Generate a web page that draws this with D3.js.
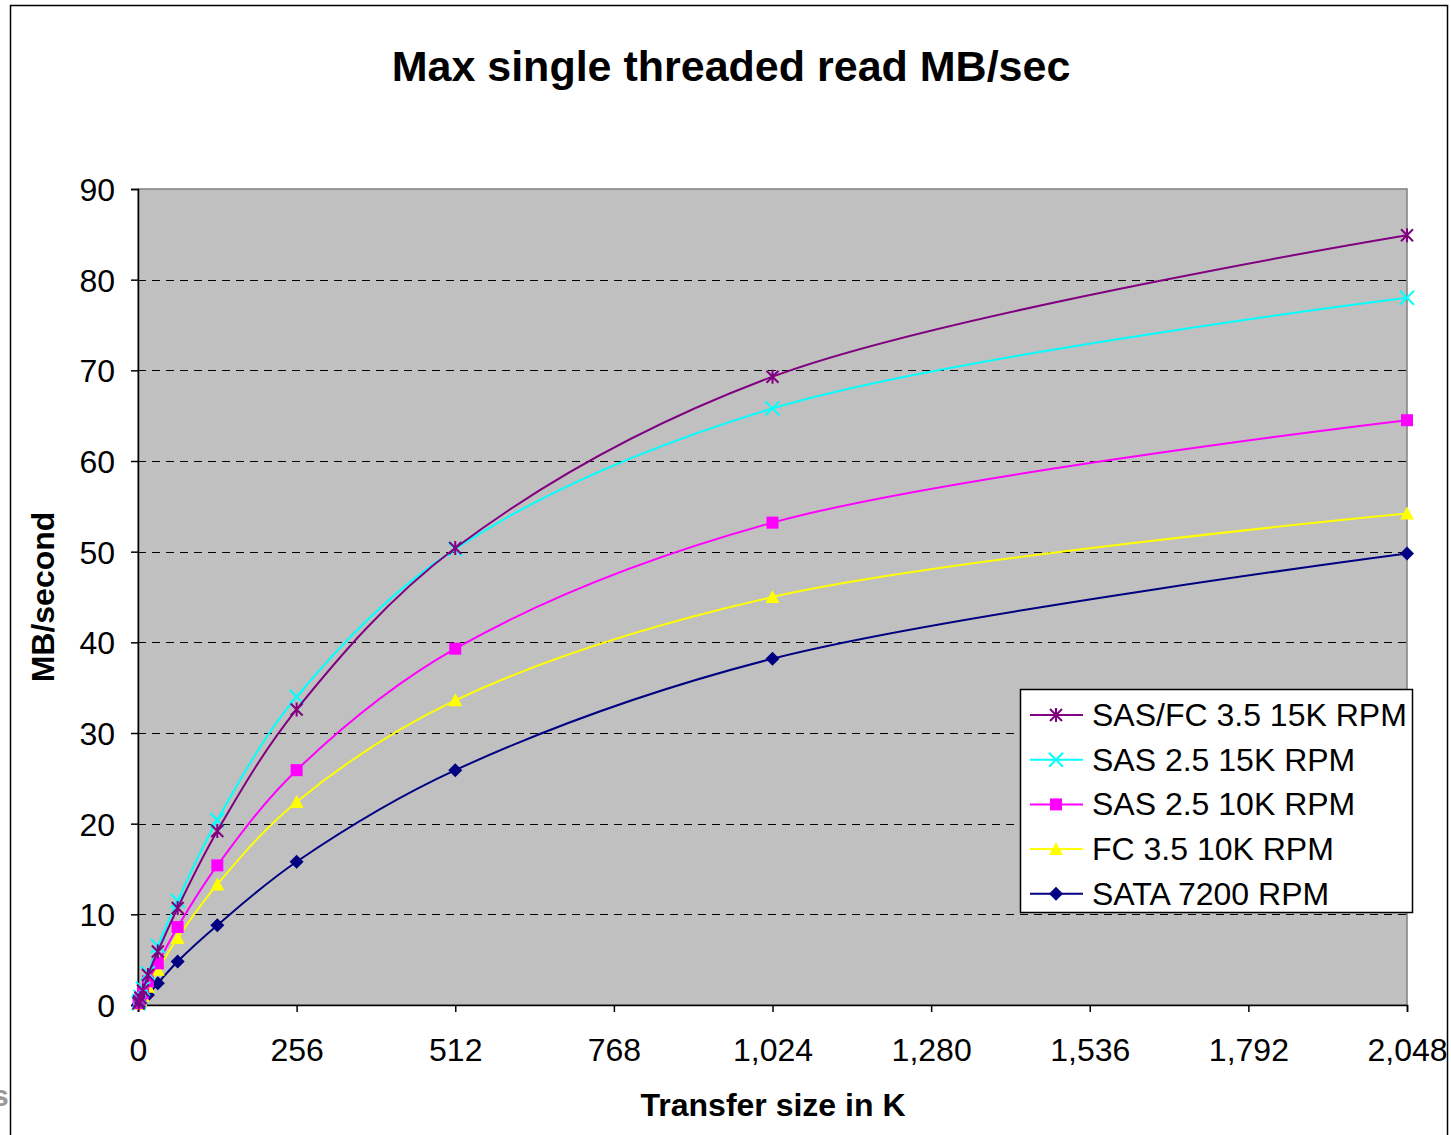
<!DOCTYPE html>
<html lang="en">
<head>
  <meta charset="UTF-8">
  <title>Max single threaded read MB/sec</title>
  <script src="https://d3js.org/d3.v7.min.js"></script>
  <style>
    body { margin: 0; background: #fff; }
    text { font-family: "Liberation Sans", Arial, sans-serif; fill: #000; }
    .title { font-size: 43px; font-weight: bold; }
    .axis-title { font-size: 32px; font-weight: bold; }
    .tick text { font-size: 32px; }
    .legend text { font-size: 32px; }
  </style>
</head>
<body>
  <svg id="chart" width="1451" height="1135"></svg>

  <script>
    // Transfer sizes (K)
    const sizes = [1, 2, 4, 8, 16, 32, 64, 128, 256, 512, 1024, 2048];

    // MB/sec per drive type
    const sasFc35_15k = [0.2, 0.4, 0.8, 1.6, 3.3, 5.9, 10.7, 19.2, 32.6, 50.4, 69.3, 84.9];
    const sas25_15k   = [0.2, 0.45, 0.9, 1.8, 3.5, 6.5, 11.5, 20.4, 34.0, 50.3, 65.8, 78.0];
    const sas25_10k   = [0.2, 0.35, 0.7, 1.3, 2.6, 4.6, 8.6, 15.4, 25.9, 39.3, 53.2, 64.5];
    const fc35_10k    = [0.1, 0.25, 0.5, 1.0, 2.0, 3.9, 7.4, 13.3, 22.4, 33.6, 45.0, 54.2];
    const sata7200    = [0.08, 0.15, 0.3, 0.6, 1.1, 2.4, 4.8, 8.8, 15.8, 25.9, 38.2, 49.8];

    const seriesNames = ["SAS/FC 3.5 15K RPM", "SAS 2.5 15K RPM", "SAS 2.5 10K RPM", "FC 3.5 10K RPM", "SATA 7200 RPM"];
    const seriesValues = [sasFc35_15k, sas25_15k, sas25_10k, fc35_10k, sata7200];
    const seriesColors = ["#800080", "#00ffff", "#ff00ff", "#ffff00", "#000080"];
    const seriesMarkers = ["star", "cross", "square", "triangle", "diamond"];

    const xTicks = [0, 256, 512, 768, 1024, 1280, 1536, 1792, 2048];
    const yTicks = [0, 10, 20, 30, 40, 50, 60, 70, 80, 90];

    const margin = { top: 189, right: 44, bottom: 130, left: 138 };
    const width = 1407 - margin.left;
    const height = 1005 - margin.top;

    const root = d3.select("#chart");

    // outer chart frame
    root.append("rect")
      .attr("x", 10.5).attr("y", 5.5)
      .attr("width", 1437).attr("height", 1140)
      .attr("fill", "#fff").attr("stroke", "#000").attr("stroke-width", 1.5);

    // stray clipped letter at the left edge (cut off in the original too)
    root.append("text")
      .attr("x", -8).attr("y", 1106)
      .style("font-size", "30px").style("font-weight", "bold").style("fill", "#999")
      .text("s");

    root.append("text")
      .attr("class", "title")
      .attr("x", 731).attr("y", 81)
      .style("text-anchor", "middle")
      .text("Max single threaded read MB/sec");

    const svg = root.append("g")
      .attr("transform", "translate(" + margin.left + "," + margin.top + ")");

    const xScale = d3.scaleLinear().domain([0, 2048]).range([0, width]);
    const yScale = d3.scaleLinear().domain([0, 90]).range([height, 0]);

    // plot background
    svg.append("rect")
      .attr("width", width).attr("height", height)
      .attr("fill", "#c0c0c0").attr("stroke", "#808080").attr("stroke-width", 1.5);

    // gridlines
    svg.selectAll(".grid")
      .data(yTicks.filter(d => d > 0 && d < 90))
      .enter()
      .append("line")
      .attr("x1", 0).attr("x2", width)
      .attr("y1", d => Math.round(yScale(d)) + 0.5)
      .attr("y2", d => Math.round(yScale(d)) + 0.5)
      .attr("stroke", "#000").attr("stroke-width", 1)
      .attr("stroke-dasharray", "8,6");

    // axes
    const yAxis = svg.append("g")
      .call(d3.axisLeft(yScale).tickValues(yTicks).tickSize(7).tickPadding(16).tickFormat(d3.format("d")));
    const xAxis = svg.append("g")
      .attr("transform", "translate(0," + height + ")")
      .call(d3.axisBottom(xScale).tickValues(xTicks).tickSize(7).tickPadding(26).tickFormat(d3.format(",")));
    [xAxis, yAxis].forEach(a => {
      a.select(".domain").attr("stroke", "#000").attr("stroke-width", 1.5);
      a.selectAll(".tick line").attr("stroke", "#000").attr("stroke-width", 1.5);
      a.selectAll(".tick text").style("font-family", "'Liberation Sans', Arial, sans-serif").attr("fill", "#000");
    });
    yAxis.selectAll(".tick text").attr("dy", "0.36em");

    // axis titles
    root.append("text")
      .attr("class", "axis-title")
      .attr("x", 773).attr("y", 1116)
      .style("text-anchor", "middle")
      .text("Transfer size in K");

    root.append("text")
      .attr("class", "axis-title")
      .attr("transform", "translate(54,597) rotate(-90)")
      .style("text-anchor", "middle")
      .text("MB/second");

    function drawMarker(g, type, color) {
      if (type === "star") {
        g.append("path").attr("d", "M-6,-6L6,6M-6,6L6,-6M0,-7L0,7")
          .attr("stroke", color).attr("stroke-width", 2).attr("fill", "none");
      } else if (type === "cross") {
        g.append("path").attr("d", "M-7,-7L7,7M-7,7L7,-7")
          .attr("stroke", color).attr("stroke-width", 2).attr("fill", "none");
      } else if (type === "square") {
        g.append("rect").attr("x", -6).attr("y", -6).attr("width", 12).attr("height", 12)
          .attr("fill", color);
      } else if (type === "triangle") {
        g.append("path").attr("d", "M0,-7L7,6L-7,6Z").attr("fill", color);
      } else if (type === "diamond") {
        g.append("path").attr("d", "M0,-7L7,0L0,7L-7,0Z").attr("fill", color);
      }
    }

    const line = d3.line()
      .x(d => xScale(d[0]))
      .y(d => yScale(d[1]))
      .curve(d3.curveCatmullRom.alpha(0.5));

    // draw bottom series first so the top series sits above
    for (let i = seriesValues.length - 1; i >= 0; i--) {
      const pts = sizes.map((s, j) => [s, seriesValues[i][j]]);
      svg.append("path")
        .datum(pts)
        .attr("d", line)
        .attr("fill", "none")
        .attr("stroke", seriesColors[i])
        .attr("stroke-width", 2);
      svg.selectAll(".m" + i)
        .data(pts)
        .enter()
        .append("g")
        .attr("class", "m" + i)
        .attr("transform", d => "translate(" + xScale(d[0]) + "," + yScale(d[1]) + ")")
        .each(function () { drawMarker(d3.select(this), seriesMarkers[i], seriesColors[i]); });
    }

    // legend
    const legend = root.append("g").attr("class", "legend");
    legend.append("rect")
      .attr("x", 1020.5).attr("y", 689.5)
      .attr("width", 392).attr("height", 223)
      .attr("fill", "#fff").attr("stroke", "#000").attr("stroke-width", 1.5);
    seriesNames.forEach((name, i) => {
      const y = 715 + i * 44.7;
      const g = legend.append("g");
      g.append("line")
        .attr("x1", 1030).attr("x2", 1083).attr("y1", y).attr("y2", y)
        .attr("stroke", seriesColors[i]).attr("stroke-width", 2);
      drawMarker(g.append("g").attr("transform", "translate(1056," + y + ")"), seriesMarkers[i], seriesColors[i]);
      g.append("text")
        .attr("x", 1092).attr("y", y + 11)
        .text(name);
    });
  </script>
</body>
</html>
